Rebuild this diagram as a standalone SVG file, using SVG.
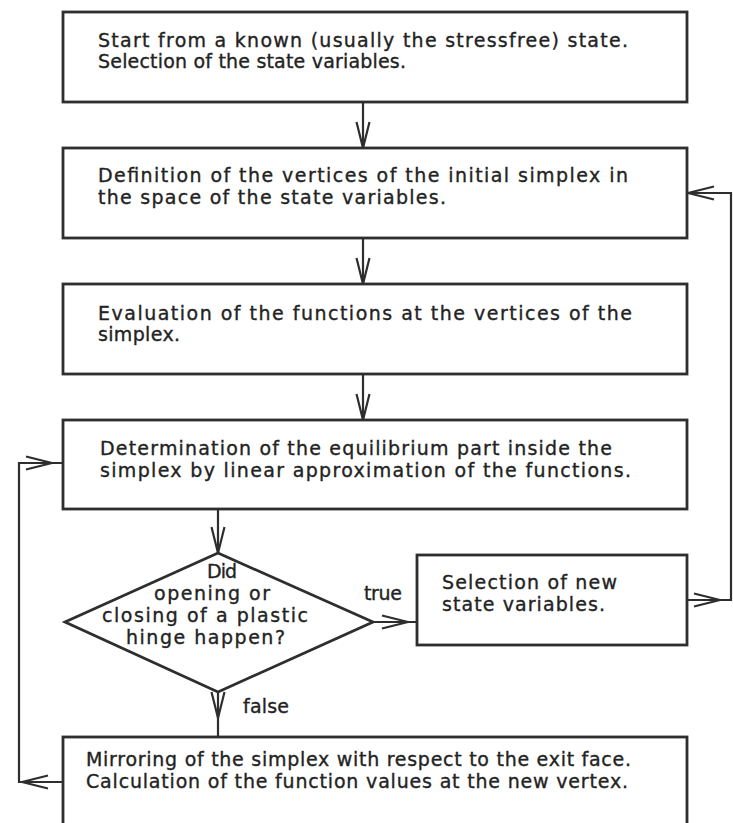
<svg xmlns="http://www.w3.org/2000/svg" xmlns:xlink="http://www.w3.org/1999/xlink" width="733" height="823" viewBox="0 0 733 823">
<style>
.box{fill:#fff;stroke:#2e2e2e;stroke-width:2.8}
.ln{fill:none;stroke:#2e2e2e;stroke-width:2.2}
.t{font-family:"DejaVu Sans","Liberation Sans",sans-serif;font-size:19px;fill:#232323;stroke:#232323;stroke-width:0.35}
</style>
<defs>
<path id="ah" d="M-26,-6.5 L0,0 L-26,6.5" fill="none" stroke="#2e2e2e" stroke-width="2.2"/>
</defs>
<rect width="733" height="823" fill="#fff"/>
<g id="connectors">
<path class="ln" d="M363,102 V148"/>
<use href="#ah" transform="translate(363,148) rotate(90)"/>
<path class="ln" d="M363,238 V284"/>
<use href="#ah" transform="translate(363,284) rotate(90)"/>
<path class="ln" d="M363,374 V420"/>
<use href="#ah" transform="translate(363,420) rotate(90)"/>
<path class="ln" d="M218,509 V553"/>
<use href="#ah" transform="translate(218,553) rotate(90)"/>
<path class="ln" d="M373,622 H417"/>
<use href="#ah" transform="translate(408,622)"/>
<path class="ln" d="M687,600 H731 V193 H687"/>
<use href="#ah" transform="translate(720,600)"/>
<use href="#ah" transform="translate(688,193) rotate(180)"/>
<path class="ln" d="M218,692 V737"/>
<use href="#ah" transform="translate(218,718) rotate(90)"/>
<path class="ln" d="M63,782 H19 V463 H63"/>
<use href="#ah" transform="translate(22,782) rotate(180)"/>
<use href="#ah" transform="translate(52,463)"/>
</g>
<g id="n1">
<rect class="box" x="63" y="12" width="624" height="90"/>
<text class="t" x="98" y="47" textLength="530" lengthAdjust="spacing">Start from a known (usually the stressfree) state.</text>
<text class="t" x="98" y="68" textLength="308" lengthAdjust="spacing">Selection of the state variables.</text>
</g>
<g id="n2">
<rect class="box" x="63" y="148" width="624" height="90"/>
<text class="t" x="98" y="182" textLength="530" lengthAdjust="spacing">Definition of the vertices of the initial simplex in</text>
<text class="t" x="98" y="204" textLength="348" lengthAdjust="spacing">the space of the state variables.</text>
</g>
<g id="n3">
<rect class="box" x="63" y="284" width="624" height="90"/>
<text class="t" x="98" y="320" textLength="534" lengthAdjust="spacing">Evaluation of the functions at the vertices of the</text>
<text class="t" x="98" y="341" textLength="82" lengthAdjust="spacing">simplex.</text>
</g>
<g id="n4">
<rect class="box" x="63" y="420" width="624" height="89"/>
<text class="t" x="100" y="455" textLength="512" lengthAdjust="spacing">Determination of the equilibrium part inside the</text>
<text class="t" x="100" y="477" textLength="531" lengthAdjust="spacing">simplex by linear approximation of the functions.</text>
</g>
<g id="n5">
<path class="box" d="M218,553 L373,622 L218,692 L65,622 Z"/>
<text class="t" x="207" y="578" textLength="30" lengthAdjust="spacing">Did</text>
<text class="t" x="154" y="600" textLength="116" lengthAdjust="spacing">opening or</text>
<text class="t" x="102" y="622" textLength="206" lengthAdjust="spacing">closing of a plastic</text>
<text class="t" x="126" y="644" textLength="159" lengthAdjust="spacing">hinge happen?</text>
</g>
<g id="n6">
<rect class="box" x="417" y="555" width="270" height="90"/>
<text class="t" x="442" y="589" textLength="175" lengthAdjust="spacing">Selection of new</text>
<text class="t" x="442" y="611" textLength="163" lengthAdjust="spacing">state variables.</text>
</g>
<g id="n7">
<rect class="box" x="63" y="737" width="624" height="100"/>
<text class="t" x="86" y="766" textLength="545" lengthAdjust="spacing">Mirroring of the simplex with respect to the exit face.</text>
<text class="t" x="86" y="788" textLength="542" lengthAdjust="spacing">Calculation of the function values at the new vertex.</text>
</g>
<g id="labels">
<text class="t" x="364" y="600" textLength="38" lengthAdjust="spacing">true</text>
<text class="t" x="243" y="713" textLength="46" lengthAdjust="spacing">false</text>
</g>
</svg>
